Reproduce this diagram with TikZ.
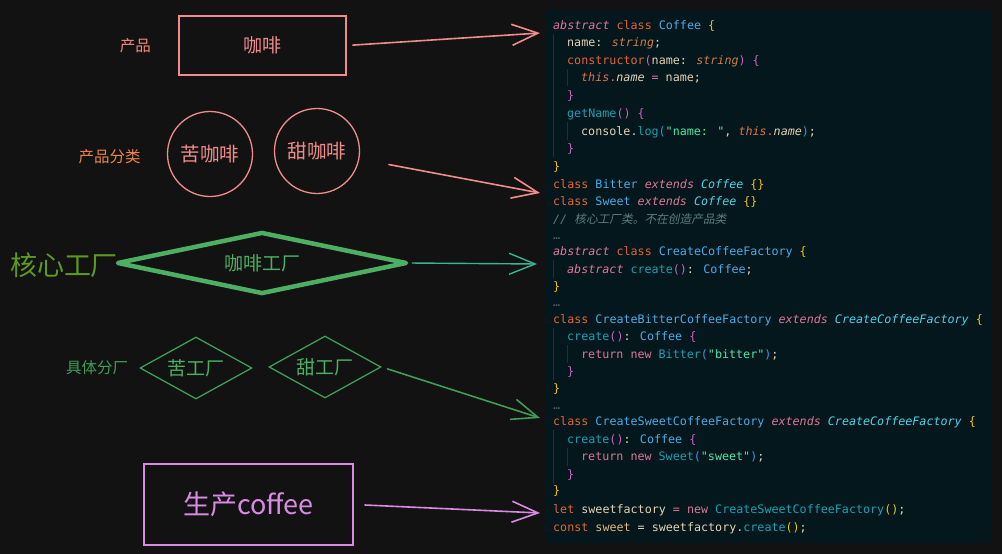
\documentclass[tikz,border=0pt]{standalone}
\usepackage{fontspec}
\setmainfont{Noto Sans CJK SC}
\newfontfamily\codefont{DejaVu Sans Mono}
\newfontfamily\cjkslant[FakeSlant=0.2]{Noto Sans CJK SC}
\usetikzlibrary{positioning,shapes.geometric,arrows.meta}

\definecolor{bgcol}{HTML}{121212}
\definecolor{panelcol}{HTML}{04171C}
\definecolor{guidecol}{HTML}{1B3338}
\definecolor{coral}{HTML}{F08C8C}
\definecolor{salmon}{HTML}{F58A78}
\definecolor{orangelbl}{HTML}{EE8646}
\definecolor{olive}{HTML}{5C9A1E}
\definecolor{facgreen}{HTML}{4CAF62}
\definecolor{subgreen}{HTML}{3F9D55}
\definecolor{tealarrow}{HTML}{38B592}
\definecolor{purple}{HTML}{D98BE3}
% code colours
\definecolor{varcol}{HTML}{E4D3B4}
\definecolor{kwcol}{HTML}{E66533}
\definecolor{modcol}{HTML}{DF769B}
\definecolor{tycol}{HTML}{49ACE9}
\definecolor{tyicol}{HTML}{49D6E9}
\definecolor{fncol}{HTML}{16A3B6}
\definecolor{strcol}{HTML}{49E9A6}
\definecolor{thiscol}{HTML}{E5704A}
\definecolor{tpcol}{HTML}{CC7E4C}
\definecolor{sweetcol}{HTML}{E4B781}
\definecolor{byel}{HTML}{F2C40F}
\definecolor{bpink}{HTML}{CE62C8}
\definecolor{bblue}{HTML}{2D9EE0}
\definecolor{cmtcol}{HTML}{5B7E84}
\definecolor{dimcol}{HTML}{4A666C}

\newcommand{\Kw}[1]{\textcolor{kwcol}{#1}}
\newcommand{\Md}[1]{\textcolor{modcol}{\itshape #1}}
\newcommand{\Rt}[1]{\textcolor{modcol}{#1}}
\newcommand{\Ty}[1]{\textcolor{tycol}{#1}}
\newcommand{\Tyi}[1]{\textcolor{tyicol}{\itshape #1}}
\newcommand{\Fn}[1]{\textcolor{fncol}{#1}}
\newcommand{\St}[1]{\textcolor{strcol}{#1}}
\newcommand{\Ts}[1]{\textcolor{thiscol}{\itshape #1}}
\newcommand{\Tp}[1]{\textcolor{tpcol}{\itshape #1}}
\newcommand{\Vi}[1]{{\itshape #1}}
\newcommand{\Sw}[1]{\textcolor{sweetcol}{#1}}
\newcommand{\By}[1]{\textcolor{byel}{#1}}
\newcommand{\Bp}[1]{\textcolor{bpink}{#1}}
\newcommand{\Bb}[1]{\textcolor{bblue}{#1}}
\newcommand{\Dots}{\textcolor{dimcol}{…}}
\newcommand{\codesize}{\fontsize{11.7}{14}\selectfont}

\tikzset{
  box/.style={draw=coral, line width=1.8pt, minimum width=167pt, minimum height=59pt, text=coral, font=\fontsize{19}{19}\selectfont},
  cup/.style={circle, draw=coral, line width=1.3pt, minimum size=85pt, text=coral, font=\fontsize{19.5}{19.5}\selectfont},
  fac/.style={diamond, aspect=4.7, draw=facgreen, line width=4.5pt, line join=round, minimum width=290pt, minimum height=62pt, text=facgreen, font=\fontsize{19}{19}\selectfont},
  subfac/.style={diamond, aspect=1.8, draw=subgreen, line width=1.3pt, minimum width=112pt, minimum height=62pt, text=facgreen, font=\fontsize{19}{19}\selectfont},
  makebox/.style={draw=purple, line width=1.8pt, minimum width=209pt, minimum height=81pt, text=purple, font=\fontsize{27}{27}\selectfont},
  lbl/.style={font=\fontsize{15.5}{15.5}\selectfont},
  link/.style={-{Straight Barb[length=26pt,width=21pt]}, line width=1.6pt, line cap=round},
  guide/.style={draw=guidecol, line width=0.8pt},
  codeln/.style={anchor=base west, text=varcol, font=\codefont\codesize},
}

\begin{document}
\begin{tikzpicture}[x=1pt, y=-1pt, every node/.style={inner sep=0pt}]
  \fill[bgcol] (0,0) rectangle (1002,554);
  \useasboundingbox (0,0) rectangle (1002,554);
  \fill[panelcol] (545,10) rectangle (992,543);

  % left side
  \node[box] (kafei) at (262.5,45.5) {咖啡};
  \node[lbl, text=salmon, left=27pt of kafei] (chanpin) {产品};
  \node[cup] (ku) at (210,154) {苦咖啡};
  \node[cup] (tian) at (317,151) {甜咖啡};
  \node[lbl, text=orangelbl, left=26pt of ku, yshift=-3pt] (fenlei) {产品分类};
  \node[fac] (kafeiFac) at (262,263) {咖啡工厂};
  \node[text=olive, font=\fontsize{27}{27}\selectfont] (hexin) at (64,265) {核心工厂};
  \node[subfac] (kuFac) at (196,368) {苦工厂};
  \node[subfac] (tianFac) at (325,367) {甜工厂};
  \node[lbl, text=subgreen, left=11pt of kuFac] (fenchang) {具体分厂};
  \node[makebox] (shengchan) at (248.5,504.5) {生产coffee};

  % arrow ends on the code
  \coordinate (p1) at (540,33);
  \coordinate (p2) at (540,193);
  \coordinate (p3) at (537,264);
  \coordinate (p4) at (540,418);
  \coordinate (p5) at (540,513);
  \draw[link, coral, shorten <=6pt] (kafei.east) -- (p1);
  \draw[link, coral, shorten <=30pt] (tian) -- (p2);
  \draw[link, tealarrow, line width=1.4pt, shorten <=3pt] (kafeiFac.east) -- (p3);
  \draw[link, subgreen, shorten <=6pt] (tianFac.east) -- (p4);
  \draw[link, purple, shorten <=11pt] (shengchan.east) -- (p5);

  % indent guides
  \draw[guide] (553,34) -- (553,157);
  \draw[guide] (567,69) -- (567,86);
  \draw[guide] (567,122) -- (567,140);
  \draw[guide] (553,260) -- (553,278);
  \draw[guide] (553,328) -- (553,380);
  \draw[guide] (567,345) -- (567,363);
  \draw[guide] (553,430) -- (553,483);
  \draw[guide] (567,448) -- (567,466);

  % code
  \node[codeln] (l1) at (553,29) {\Md{abstract} \Kw{class} \Ty{Coffee} \By{\{}};
  \node[codeln] (l2) at (567,46.7) {name: \Tp{string};};
  \node[codeln] (l3) at (567,64) {\Kw{constructor}\Bp{(}name: \Tp{string}\Bp{)} \Bp{\{}};
  \node[codeln] (l4) at (581,81.7) {\Ts{this}\textcolor{thiscol}{.}\Vi{name} \Rt{=} name;};
  \node[codeln] (l5) at (567,99) {\Bp{\}}};
  \node[codeln] (l6) at (567,117) {\Fn{getName}\Bp{()} \Bp{\{}};
  \node[codeln] (l7) at (581,135) {console.\Fn{log}\Bb{(}\St{"name: "}, \Ts{this}\textcolor{thiscol}{.}\Vi{name}\Bb{)};};
  \node[codeln] (l8) at (567,152) {\Bp{\}}};
  \node[codeln] (l9) at (553,170) {\By{\}}};
  \node[codeln] (l10) at (553,188) {\Kw{class} \Ty{Bitter} \Md{extends} \Tyi{Coffee} \By{\{\}}};
  \node[codeln] (l11) at (553,205.7) {\Kw{class} \Ty{Sweet} \Md{extends} \Tyi{Coffee} \By{\{\}}};
  \node[codeln, text=cmtcol] (l12) at (553,223) {\itshape // {\cjkslant 核心工厂类。不在创造产品类}};
  \node[codeln] (l13) at (553,239) {\Dots};
  \node[codeln] (l14) at (553,255.7) {\Md{abstract} \Kw{class} \Ty{CreateCoffeeFactory} \By{\{}};
  \node[codeln] (l15) at (567,273) {\Md{abstract} \Fn{create}\Bp{()}: \Ty{Coffee};};
  \node[codeln] (l16) at (553,290.7) {\By{\}}};
  \node[codeln] (l17) at (553,306) {\Dots};
  \node[codeln] (l18) at (553,323) {\Kw{class} \Ty{CreateBitterCoffeeFactory} \Md{extends} \Tyi{CreateCoffeeFactory} \By{\{}};
  \node[codeln] (l19) at (567,340.7) {\Fn{create}\Bp{()}: \Ty{Coffee} \Bp{\{}};
  \node[codeln] (l20) at (581,358) {\Rt{return} \Rt{new} \Fn{Bitter}\Bb{(}\St{"bitter"}\Bb{)};};
  \node[codeln] (l21) at (567,375) {\Bp{\}}};
  \node[codeln] (l22) at (553,392) {\By{\}}};
  \node[codeln] (l23) at (553,409) {\Dots};
  \node[codeln] (l24) at (553,425.7) {\Kw{class} \Ty{CreateSweetCoffeeFactory} \Md{extends} \Tyi{CreateCoffeeFactory} \By{\{}};
  \node[codeln] (l25) at (567,443) {\Fn{create}\Bp{()}: \Ty{Coffee} \Bp{\{}};
  \node[codeln] (l26) at (581,460.7) {\Rt{return} \Rt{new} \Fn{Sweet}\Bb{(}\St{"sweet"}\Bb{)};};
  \node[codeln] (l27) at (567,478) {\Bp{\}}};
  \node[codeln] (l28) at (553,494.7) {\By{\}}};
  \node[codeln] (l29) at (553,513) {\Kw{let} sweetfactory \Rt{=} \Rt{new} \Fn{CreateSweetCoffeeFactory}\By{()};};
  \node[codeln] (l30) at (553,531) {\Kw{const} \Sw{sweet} = sweetfactory.\Fn{create}\By{()};};
\end{tikzpicture}
\end{document}
